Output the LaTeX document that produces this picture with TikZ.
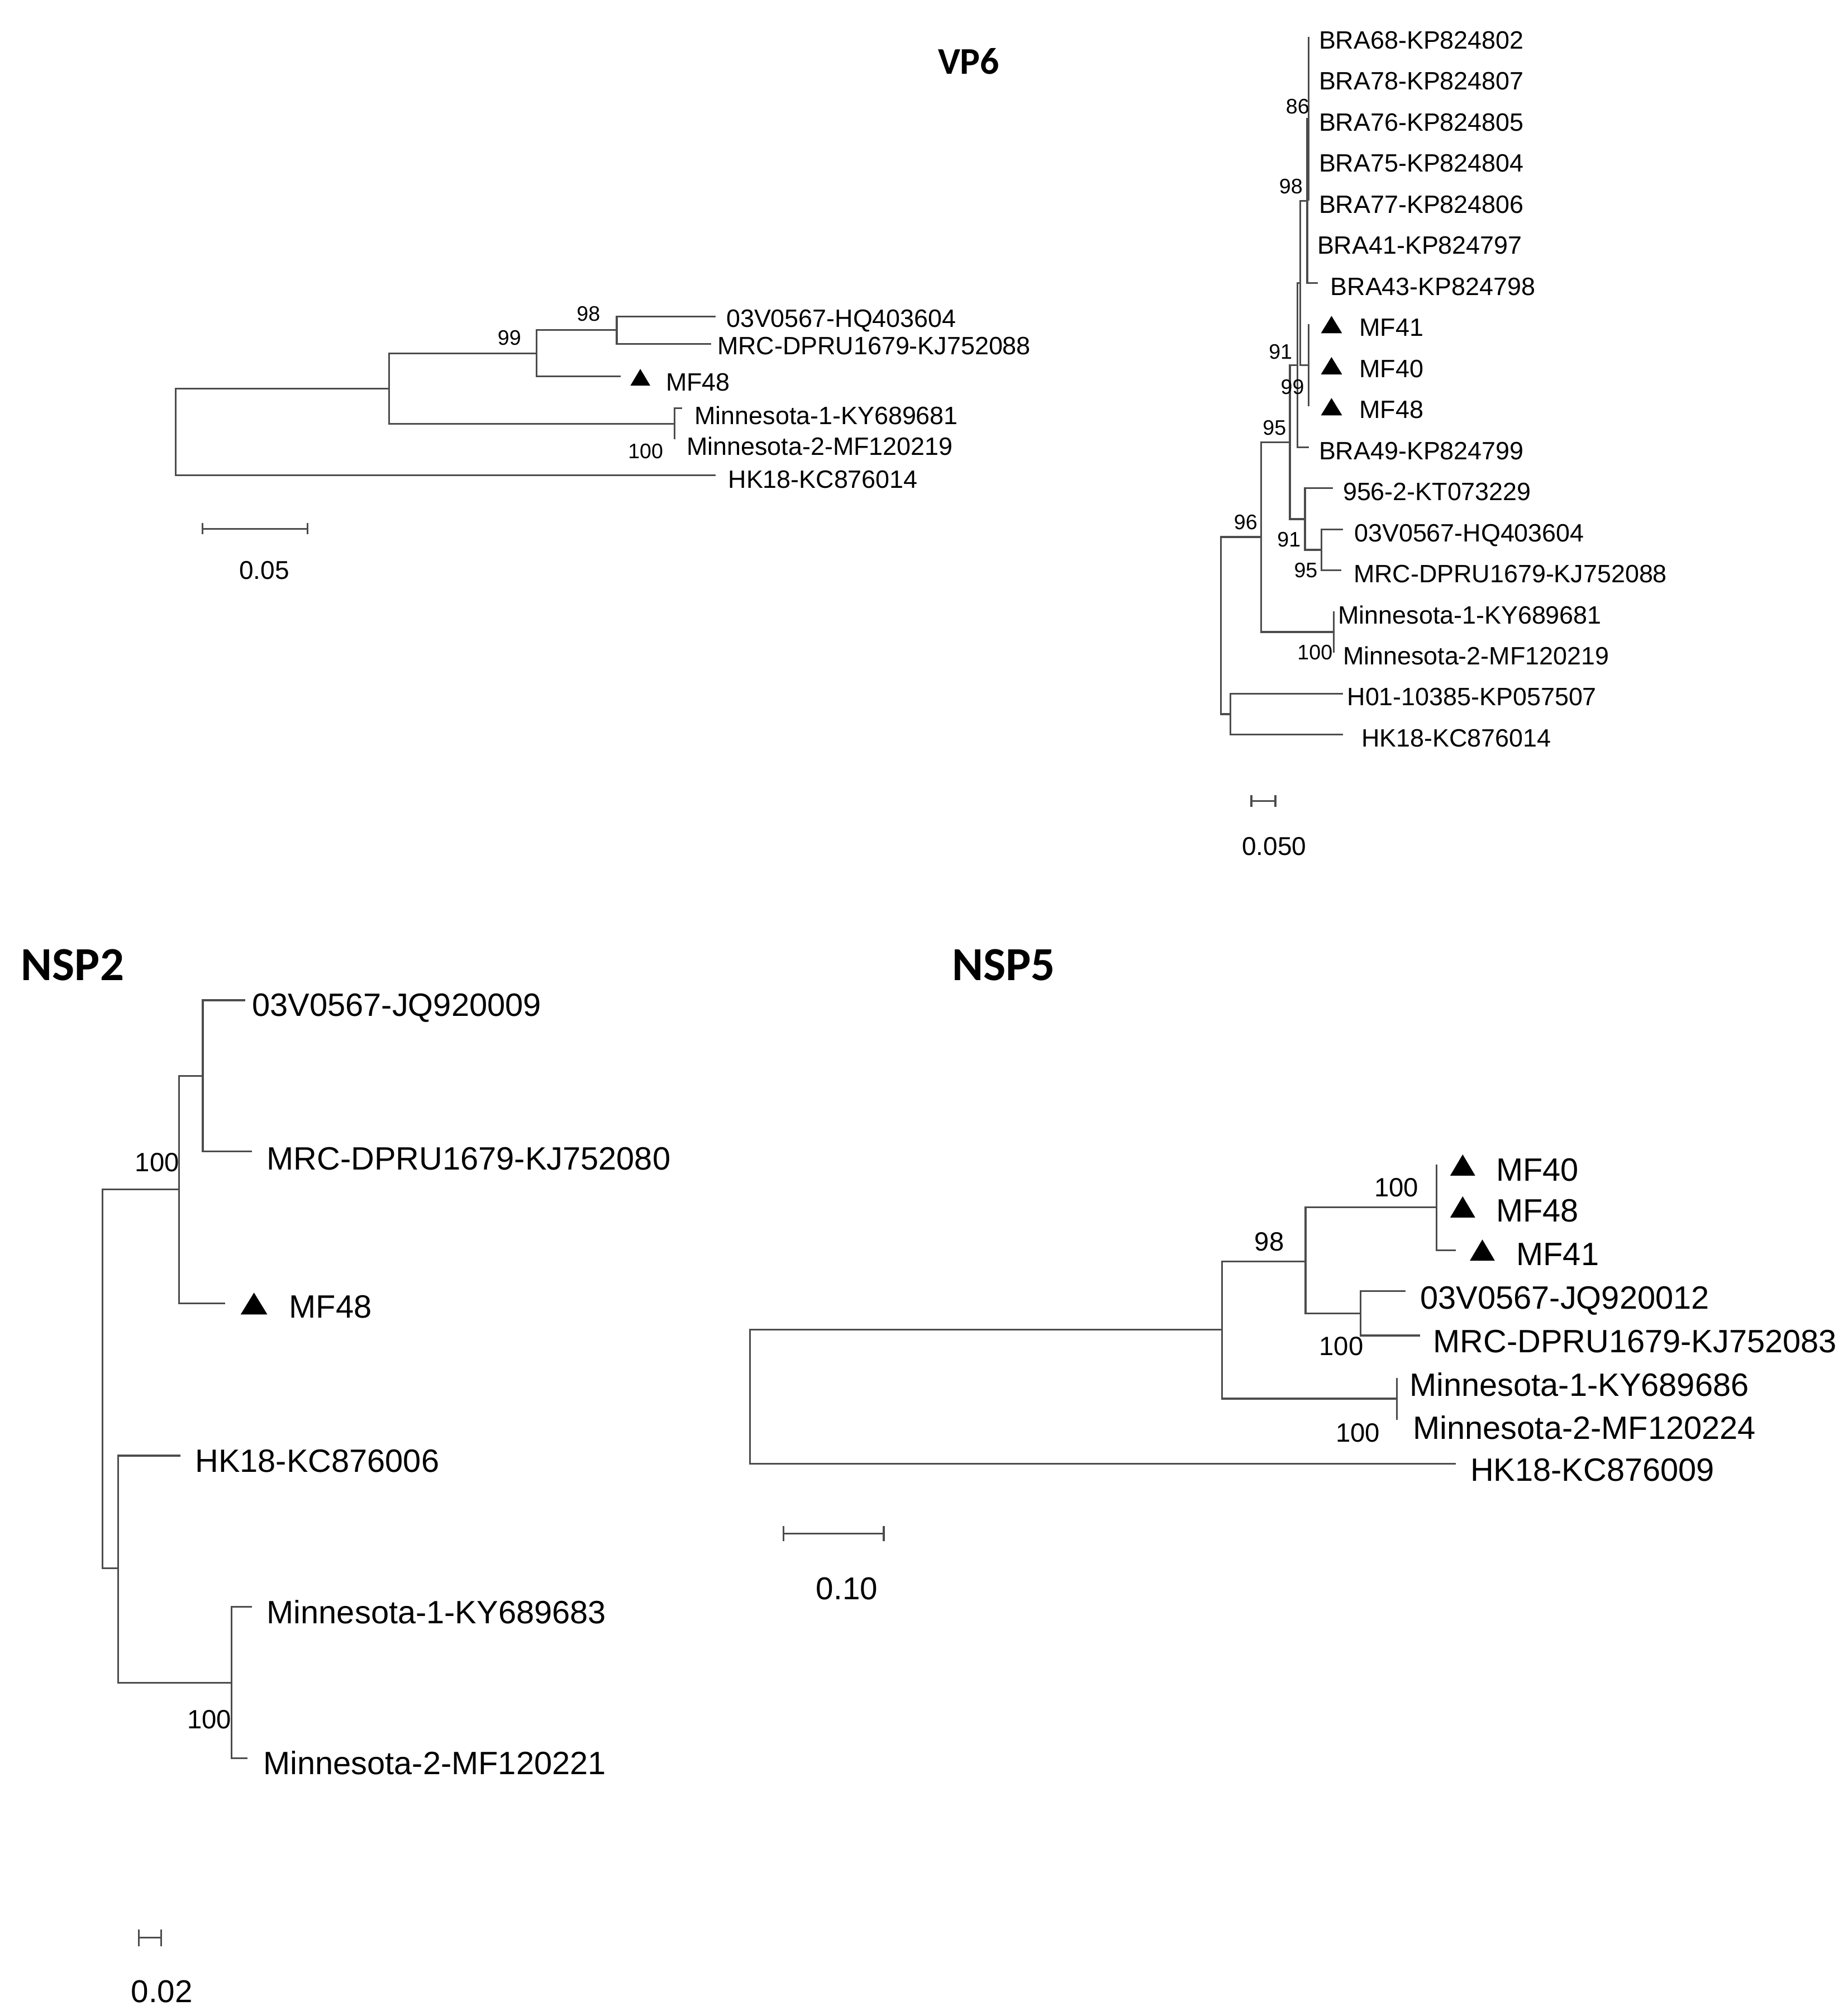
\documentclass[tikz,border=0pt]{standalone}
\usepackage{fontspec}
\setmainfont{Liberation Sans}
\newfontfamily\titlefont{Carlito}
\newcommand{\mftri}[4]{\fill[black] (#1-#3/2,#2+#4/2) -- (#1+#3/2,#2+#4/2) -- (#1,#2-#4/2) -- cycle;}

\begin{document}
\begin{tikzpicture}[x=0.02cm, y=-0.02cm,
  br/.style={line width=0.8pt, black!70},
  vlab/.style={anchor=west, inner sep=0pt, text height=7.95pt, text depth=0pt, font=\fontsize{11.1}{13}\selectfont},
  vboot/.style={inner sep=0pt, text height=6.66pt, text depth=0pt, font=\fontsize{9.3}{11}\selectfont},
  vscale/.style={inner sep=0pt, text height=8.16pt, text depth=0pt, font=\fontsize{11.4}{13}\selectfont},
  nlab/.style={anchor=west, inner sep=0pt, text height=10.24pt, text depth=0pt, font=\fontsize{14.3}{17}\selectfont},
  nboot/.style={inner sep=0pt, text height=8.38pt, text depth=0pt, font=\fontsize{11.7}{14}\selectfont},
  nscale/.style={inner sep=0pt, text height=10pt, text depth=0pt, font=\fontsize{14}{17}\selectfont},
  ttl/.style={inner sep=0pt, text height=13.5pt, text depth=0pt, font=\titlefont\bfseries\fontsize{21}{25}\selectfont}]

  \useasboundingbox (0,0) rectangle (1438,1568);

  \node[ttl, text height=10.75pt, font=\titlefont\bfseries\fontsize{16.7}{20}\selectfont] (vptitle) at (754,48) {VP6};

  \coordinate (l0) at (136.6,336);
  \coordinate (la) at (303,302.3);
  \coordinate (lb) at (417.6,275);
  \coordinate (lc) at (480,256.9);
  \coordinate (ld) at (525,329.7);
  \coordinate (l03) at (556.8,246.3);
  \coordinate (lmrc) at (553.7,267.5);
  \coordinate (lmf) at (483,293);
  \coordinate (lmin1) at (531,317.5);
  \coordinate (lmin2) at (525,341.8);
  \coordinate (lhk) at (556.8,369.7);
  \draw[br] (l0) |- (la) (l0) |- (lhk) (la) |- (lb) (la) |- (ld)
            (lb) |- (lc) (lb) |- (lmf) (lc) |- (l03) (lc) |- (lmrc)
            (ld) |- (lmin1) (ld) |- (lmin2);
  \mftri{498.4}{293.6}{15.5}{13}
  \node[vlab] (l03t) at (565,247.7) {03V0567-HQ403604};
  \node[vlab] (lmrct) at (558,268.8) {MRC-DPRU1679-KJ752088};
  \node[vlab] (lmft) at (518,297) {MF48};
  \node[vlab] (lmin1t) at (540.4,323.1) {Minnesota-1-KY689681};
  \node[vlab] (lmin2t) at (534.2,347.2) {Minnesota-2-MF120219};
  \node[vlab] (lhkt) at (566.5,372.8) {HK18-KC876014};
  \node[vboot] (lb98) at (458,244) {98};
  \node[vboot] (lb99) at (396.5,262.6) {99};
  \node[vboot] (lb100) at (502.5,351) {100};
  \coordinate (lsa) at (157.5,411.4);
  \coordinate (lsb) at (239.5,411.4);
  \draw[br] (lsa) -- (lsb) (lsa) ++(0,-4.5) -- ++(0,9) (lsb) ++(0,-4.5) -- ++(0,9);
  \node[vscale] (lsl) at (205.7,443.5) {0.05};

  \coordinate (rr) at (950.4,486.8);
  \coordinate (r96) at (981.6,417.9);
  \coordinate (r95) at (1004,344);
  \coordinate (r99) at (1009.9,284.1);
  \coordinate (r91a) at (1012,220.2);
  \coordinate (r98) at (1017.5,156.3);
  \coordinate (r86) at (1018.6,92.4);
  \coordinate (rmf) at (1018.6,284.1);
  \coordinate (r91b) at (1015.7,404);
  \coordinate (r95b) at (1028.7,427.9);
  \coordinate (r100) at (1038.1,491.8);
  \coordinate (rout) at (957.7,555.7);
  \coordinate (rbra68) at (1018.6,28.5);
  \coordinate (rbra78) at (1018.6,60.45);
  \coordinate (rbra76) at (1018.6,92.4);
  \coordinate (rbra75) at (1018.6,124.35);
  \coordinate (rbra77) at (1018.6,156.3);
  \coordinate (rbra41) at (1017.5,188.25);
  \coordinate (rbra43) at (1025.8,220.2);
  \coordinate (rmf41) at (1018.6,252.15);
  \coordinate (rmf40) at (1018.6,284.1);
  \coordinate (rmf48) at (1018.6,316.05);
  \coordinate (rbra49) at (1018.6,348);
  \coordinate (r956) at (1037.4,379.95);
  \coordinate (r03) at (1045.3,411.9);
  \coordinate (rmrc) at (1043.9,443.85);
  \coordinate (rmin1) at (1038.1,475.8);
  \coordinate (rmin2) at (1038.1,507.75);
  \coordinate (rh01) at (1045.3,539.7);
  \coordinate (rhk) at (1045.3,571.65);
  \draw[br] (rr) |- (r96) (rr) |- (rout) (r96) |- (r95) (r96) |- (r100)
            (r95) |- (r99) (r95) |- (r91b) (r99) |- (r91a) (r99) |- (rbra49)
            (r91a) |- (r98) (r91a) |- (rmf) (r98) |- (r86) (r98) |- (rbra41) (r98) |- (rbra43)
            (r86) |- (rbra68) (r86) |- (rbra78) (r86) |- (rbra76) (r86) |- (rbra75) (r86) |- (rbra77)
            (rmf) |- (rmf41) (rmf) |- (rmf40) (rmf) |- (rmf48)
            (r91b) |- (r956) (r91b) |- (r95b) (r95b) |- (r03) (r95b) |- (rmrc)
            (r100) |- (rmin1) (r100) |- (rmin2) (rout) |- (rh01) (rout) |- (rhk);
  \mftri{1036.4}{252.6}{16.5}{13.5}
  \mftri{1036.4}{284.6}{16.5}{13.5}
  \mftri{1036.4}{316.5}{16.5}{13.5}
  \node[vlab] (rbra68t) at (1026.3,31) {BRA68-KP824802};
  \node[vlab] (rbra78t) at (1026.3,62.95) {BRA78-KP824807};
  \node[vlab] (rbra76t) at (1026.3,94.9) {BRA76-KP824805};
  \node[vlab] (rbra75t) at (1026.3,126.85) {BRA75-KP824804};
  \node[vlab] (rbra77t) at (1026.3,158.8) {BRA77-KP824806};
  \node[vlab] (rbra41t) at (1025,190.75) {BRA41-KP824797};
  \node[vlab] (rbra43t) at (1035.3,222.7) {BRA43-KP824798};
  \node[vlab] (rmf41t) at (1057.8,254.65) {MF41};
  \node[vlab] (rmf40t) at (1057.8,286.6) {MF40};
  \node[vlab] (rmf48t) at (1057.8,318.55) {MF48};
  \node[vlab] (rbra49t) at (1026.3,350.5) {BRA49-KP824799};
  \node[vlab] (r956t) at (1045,382.45) {956-2-KT073229};
  \node[vlab] (r03t) at (1053.8,414.4) {03V0567-HQ403604};
  \node[vlab] (rmrct) at (1053.3,446.35) {MRC-DPRU1679-KJ752088};
  \node[vlab] (rmin1t) at (1041.3,478.3) {Minnesota-1-KY689681};
  \node[vlab] (rmin2t) at (1045,510.25) {Minnesota-2-MF120219};
  \node[vlab] (rh01t) at (1048.3,542.2) {H01-10385-KP057507};
  \node[vlab] (rhkt) at (1059.5,574.15) {HK18-KC876014};
  \node[vboot] (rb86) at (1010,82.6) {86};
  \node[vboot] (rb98) at (1004.8,145) {98};
  \node[vboot] (rb91a) at (996.7,273.4) {91};
  \node[vboot] (rb99) at (1006,300.9) {99};
  \node[vboot] (rb95) at (992,332.8) {95};
  \node[vboot] (rb91b) at (1003.3,419.8) {91};
  \node[vboot] (rb95b) at (1016.4,443.7) {95};
  \node[vboot] (rb96) at (969.6,406) {96};
  \node[vboot] (rb100) at (1023.5,507.5) {100};
  \coordinate (rsa) at (974,623.4);
  \coordinate (rsb) at (992.7,623.4);
  \draw[br] (rsa) -- (rsb) (rsa) ++(0,-4.7) -- ++(0,9.4) (rsb) ++(0,-4.7) -- ++(0,9.4);
  \node[vscale] (rsl) at (991.7,658.3) {0.050};

  \node[ttl] (nsp2title) at (56.5,751.2) {NSP2};
  \coordinate (p0) at (79.8,1072.6);
  \coordinate (pa) at (139.4,925.5);
  \coordinate (pb) at (157.8,837.2);
  \coordinate (pc) at (91.9,1220.5);
  \coordinate (pd) at (180.4,1309.4);
  \coordinate (p03) at (190.8,778.3);
  \coordinate (pmrc) at (196,896);
  \coordinate (pmf) at (175.2,1014.2);
  \coordinate (phk) at (140.5,1132.7);
  \coordinate (pmin1) at (196,1250.5);
  \coordinate (pmin2) at (192.5,1368.3);
  \draw[br] (p0) |- (pa) (p0) |- (pc) (pa) |- (pb) (pa) |- (pmf)
            (pb) |- (p03) (pb) |- (pmrc) (pc) |- (phk) (pc) |- (pd)
            (pd) |- (pmin1) (pd) |- (pmin2);
  \mftri{197.7}{1014.4}{20.8}{17}
  \node[nlab] (p03t) at (196,781.8) {03V0567-JQ920009};
  \node[nlab] (pmrct) at (207.4,901.2) {MRC-DPRU1679-KJ752080};
  \node[nlab] (pmft) at (224.8,1016.7) {MF48};
  \node[nlab] (phkt) at (151.6,1136.4) {HK18-KC876006};
  \node[nlab] (pmin1t) at (207.4,1254.2) {Minnesota-1-KY689683};
  \node[nlab] (pmin2t) at (204.6,1372) {Minnesota-2-MF120221};
  \node[nboot] (pb100a) at (122.3,904.1) {100};
  \node[nboot] (pb100b) at (163,1337.6) {100};
  \coordinate (psa) at (108.2,1507.9);
  \coordinate (psb) at (125.6,1507.9);
  \draw[br] (psa) -- (psb) (psa) ++(0,-6.5) -- ++(0,13) (psb) ++(0,-6.5) -- ++(0,13);
  \node[nscale] (psl) at (126,1549.6) {0.02};

  \node[ttl] (nsp5title) at (781.1,751) {NSP5};
  \coordinate (q0) at (583.8,1086.7);
  \coordinate (qa) at (951.1,1034.7);
  \coordinate (qb) at (1016.2,981.6);
  \coordinate (qc) at (1118,939.5);
  \coordinate (qd) at (1058.9,1022);
  \coordinate (qe) at (1087.4,1088.4);
  \coordinate (qmf40) at (1118,906.2);
  \coordinate (qmf48) at (1118,939.5);
  \coordinate (qmf41) at (1133.1,972.9);
  \coordinate (q03) at (1094,1004.8);
  \coordinate (qmrc) at (1105.2,1039.2);
  \coordinate (qmin1) at (1087.4,1072.2);
  \coordinate (qmin2) at (1087.4,1104.7);
  \coordinate (qhk) at (1133.1,1139.1);
  \draw[br] (q0) |- (qa) (q0) |- (qhk) (qa) |- (qb) (qa) |- (qe)
            (qb) |- (qc) (qb) |- (qd) (qc) |- (qmf40) (qc) |- (qmf48) (qc) |- (qmf41)
            (qd) |- (q03) (qd) |- (qmrc) (qe) |- (qmin1) (qe) |- (qmin2);
  \mftri{1138.5}{906.6}{19.5}{16.5}
  \mftri{1138.5}{939.2}{19.5}{16.5}
  \mftri{1153.8}{972.8}{19.5}{16.5}
  \node[nlab] (qmf40t) at (1164.3,909.8) {MF40};
  \node[nlab] (qmf48t) at (1164.3,941.7) {MF48};
  \node[nlab] (qmf41t) at (1180,975.8) {MF41};
  \node[nlab] (q03t) at (1105.2,1009.8) {03V0567-JQ920012};
  \node[nlab] (qmrct) at (1115.2,1043.5) {MRC-DPRU1679-KJ752083};
  \node[nlab] (qmin1t) at (1096.9,1077.2) {Minnesota-1-KY689686};
  \node[nlab] (qmin2t) at (1099.6,1111) {Minnesota-2-MF120224};
  \node[nlab] (qhkt) at (1144.2,1143.4) {HK18-KC876009};
  \node[nboot] (qb98) at (988,966.1) {98};
  \node[nboot] (qb100a) at (1087,923.6) {100};
  \node[nboot] (qb100b) at (1044,1047.3) {100};
  \node[nboot] (qb100c) at (1057,1114.7) {100};
  \coordinate (qsa) at (610,1193.3);
  \coordinate (qsb) at (687.9,1193.3);
  \draw[br] (qsa) -- (qsb) (qsa) ++(0,-6) -- ++(0,12) (qsb) ++(0,-6) -- ++(0,12);
  \node[nscale] (qsl) at (659.2,1235.8) {0.10};
\end{tikzpicture}
\end{document}
